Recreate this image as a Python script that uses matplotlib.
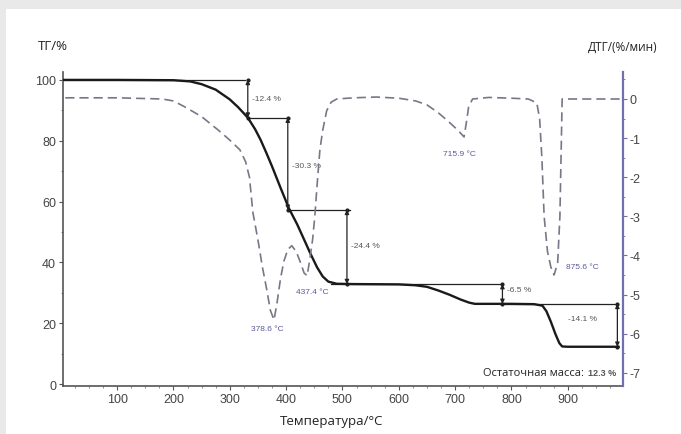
import matplotlib.pyplot as plt
import matplotlib.patches as patches
from matplotlib.ticker import MultipleLocator

plt.rcParams['axes.unicode_minus'] = False

# TG curve (mass, %)
tg_temp = [5, 100, 200, 230, 250, 275, 300, 315, 332, 345, 355, 365, 375, 390, 405,
           420, 432, 444, 455, 465, 475, 490, 520, 600, 630, 650, 670, 690, 710,
           725, 735, 760, 800, 840, 855, 862, 870, 878, 885, 890, 900, 990]
tg_mass = [100, 100, 99.9, 99.5, 98.6, 96.8, 93.6, 91.0, 87.6, 83.8, 80.2, 76.0, 71.6, 64.6, 57.8,
           52.4, 47.5, 42.6, 38.4, 35.4, 33.7, 33.0, 32.9, 32.8, 32.5, 32.0, 30.8, 29.4, 27.8,
           26.8, 26.4, 26.4, 26.4, 26.3, 25.8, 24.0, 20.5, 16.5, 13.5, 12.4, 12.3, 12.3]

# DTG curve (%/min)
dtg_temp = [8, 100, 180, 200, 220, 250, 280, 300, 318, 328, 335, 341, 350, 358, 366, 372,
            378.6, 384, 390, 396, 403, 410, 418, 426, 432, 437.4, 442, 447, 451, 455, 460,
            465, 472, 480, 490, 520, 560, 600, 630, 650, 670, 690, 705, 715.9, 720, 724,
            731, 760, 800, 830, 845, 850, 854, 858, 864, 870, 875.6, 882, 886, 888, 890,
            920, 995]
dtg_rate = [0.03, 0.03, 0.0, -0.05, -0.2, -0.45, -0.8, -1.05, -1.3, -1.6, -2.0, -2.9, -3.6, -4.3, -4.9, -5.4,
            -5.65, -5.2, -4.6, -4.15, -3.85, -3.75, -3.9, -4.2, -4.45, -4.52, -4.1, -3.6, -3.0, -2.2, -1.3,
            -0.8, -0.3, -0.08, 0.0, 0.03, 0.05, 0.02, -0.05, -0.15, -0.35, -0.6, -0.8, -0.97, -0.6, -0.2,
            0.0, 0.04, 0.02, 0.0, -0.1, -0.5, -1.5, -3.0, -3.9, -4.3, -4.5, -4.2, -3.0, -1.5, 0.0,
            0.0, 0.0]

# mass-loss steps: arrow temperature, upper and lower level, label
step_temp = [332, 403, 508, 784, 988]
step_top = [100, 87.6, 57.3, 32.9, 26.4]
step_bottom = [87.6, 57.3, 32.9, 26.4, 12.3]
step_labels = ['-12.4 %', '-30.3 %', '-24.4 %', '-6.5 %', '-14.1 %']
step_label_x = [340, 411, 516, 792, 900]
step_label_y = [94, 72, 45.5, 31, 21.5]
# horizontal reference lines: level, start, end
level_y = [100, 87.6, 57.3, 32.9, 26.4]
level_x0 = [5, 332, 403, 480, 784]
level_x1 = [327, 403, 513, 784, 990]

# DTG peak temperatures and label anchors
peak_temp = [378.6, 437.4, 715.9, 875.6]
peak_label_x = [366, 446, 708, 896]
peak_label_y = [-5.87, -4.93, -1.4, -4.29]

residue = 12.3

fig = plt.figure(figsize=(6.81, 4.35), dpi=100)
fig.patch.set_facecolor('white')
# grey frame on top and left edges
fig.add_artist(patches.Rectangle((0, 1 - 10 / 435), 1, 10 / 435, transform=fig.transFigure,
                                 facecolor='#e9e9e9', edgecolor='none', zorder=0))
fig.add_artist(patches.Rectangle((0, 0), 6 / 681, 1, transform=fig.transFigure,
                                 facecolor='#e9e9e9', edgecolor='none', zorder=0))

ax = fig.add_axes([63 / 681, 48.3 / 435, 560 / 681, 313.7 / 435])
ax2 = ax.twinx()

note_font = {'family': 'Liberation Sans', 'size': 6, 'color': '#555555'}

ax.plot(tg_temp, tg_mass, color='#1a1a1a', lw=1.7, zorder=3)
ax2.plot(dtg_temp, dtg_rate, color='#777788', lw=1.2, ls=(0, (5.5, 3)), zorder=2)

for y, x0, x1 in zip(level_y, level_x0, level_x1):
    ax.plot([x0, x1], [y, y], color='#222222', lw=0.9, zorder=2)

for x, top, bot, lab, lx, ly in zip(step_temp, step_top, step_bottom, step_labels,
                                    step_label_x, step_label_y):
    ax.annotate('', xy=(x, bot), xytext=(x, top),
                arrowprops=dict(arrowstyle='<|-|>', color='#222222', lw=0.9,
                                mutation_scale=6, shrinkA=0, shrinkB=0))
    ax.plot([x, x], [top, bot], ls='none', marker='o', ms=2, color='#222222')
    ax.text(lx, ly, lab, ha='left', va='center', fontdict=note_font)

for x, lx, ly in zip(peak_temp, peak_label_x, peak_label_y):
    ax2.text(lx, ly, f'{x:.1f} °C', ha='center' if x < 800 else 'left', va='center',
             fontdict={'family': 'Liberation Sans', 'size': 6, 'color': '#5a5a9a'})

ax.text(928, 3.9, 'Остаточная масса:', ha='right', va='center',
        fontfamily='Open Sans', fontsize=8, color='#222222')
ax.text(936, 3.9, f'{residue} %', ha='left', va='center',
        fontfamily='Liberation Sans', fontsize=6.5, color='#555555', fontweight='bold')

ax.set_xlim(4, 998)
ax.set_ylim(-0.5, 102.6)
ax2.set_ylim(-7.33, 0.69)

ax.set_xticks([100, 200, 300, 400, 500, 600, 700, 800, 900])
ax.xaxis.set_minor_locator(MultipleLocator(25))
ax.set_yticks([0, 20, 40, 60, 80, 100])
ax.yaxis.set_minor_locator(MultipleLocator(10))
ax2.set_yticks([0, -1, -2, -3, -4, -5, -6, -7])
ax2.yaxis.set_minor_locator(MultipleLocator(0.5))

for lab in ax.get_xticklabels() + ax.get_yticklabels() + ax2.get_yticklabels():
    lab.set_fontfamily('Liberation Sans')
    lab.set_fontsize(9)
    lab.set_color('#444444')

ax.tick_params(axis='both', which='major', length=3, width=0.8, color='#555555', pad=2)
ax.tick_params(axis='both', which='minor', length=1.5, width=0.6, color='#777777')
ax2.tick_params(axis='y', which='major', length=3, width=0.8, color='#7070b0', pad=2)
ax2.tick_params(axis='y', which='minor', length=1.5, width=0.6, color='#7070b0')

ax.spines['top'].set_visible(False)
ax2.spines['top'].set_visible(False)
ax2.spines['left'].set_visible(False)
ax2.spines['bottom'].set_visible(False)
ax.spines['right'].set_visible(False)
ax.spines['left'].set_color('#555555')
ax.spines['bottom'].set_color('#555555')
ax.spines['left'].set_linewidth(1.2)
ax.spines['bottom'].set_linewidth(1.2)
ax2.spines['right'].set_color('#7070b0')
ax2.spines['right'].set_linewidth(1.6)

fig.text(38 / 681, 1 - 47 / 435, 'ТГ/%', ha='left', va='center',
         fontfamily='Open Sans', fontsize=9.5, color='#222222')
fig.text(658 / 681, 1 - 47 / 435, 'ДТГ/(%/мин)', ha='right', va='center',
         fontfamily='Open Sans', fontsize=8.5, color='#222222')
fig.text(332 / 681, 1 - 422 / 435, 'Температура/°C', ha='center', va='center',
         fontfamily='Open Sans', fontsize=9.5, color='#222222')

fig.savefig('out.png', dpi=100)
